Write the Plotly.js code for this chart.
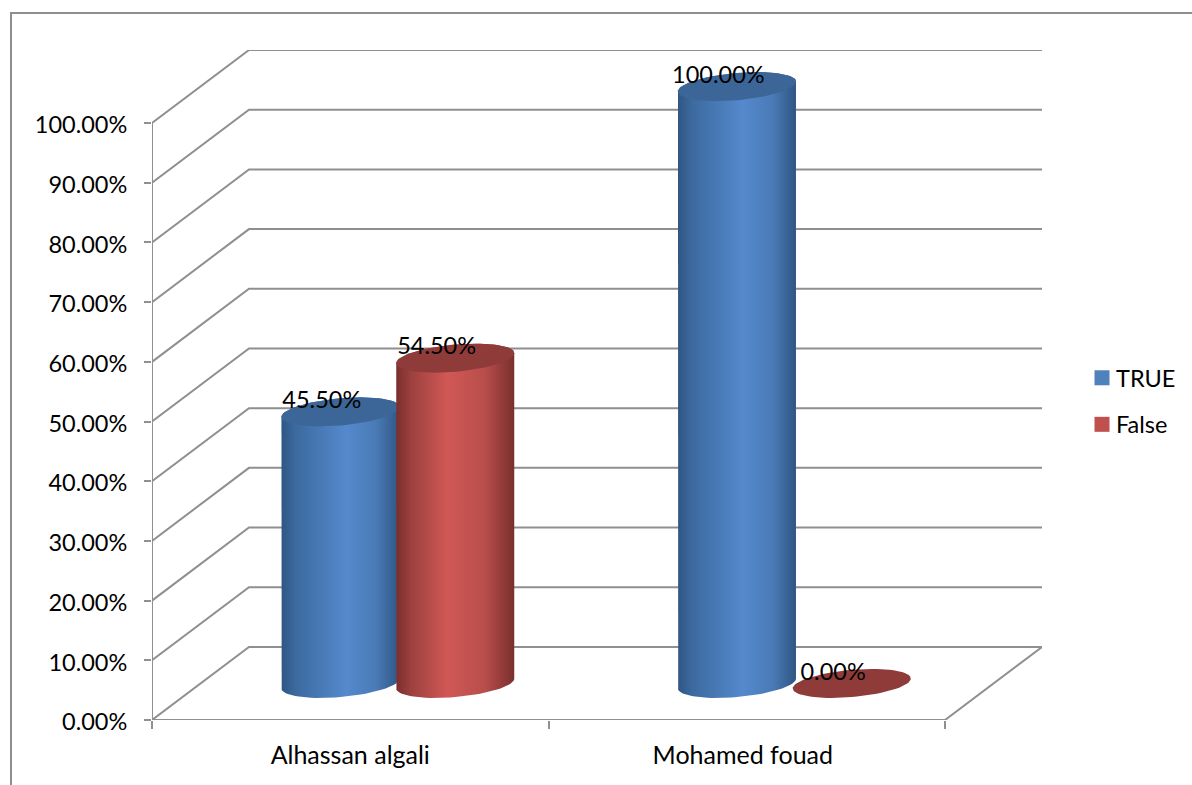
<!DOCTYPE html>
<html>
<head>
<meta charset="utf-8">
<script src="https://cdn.plot.ly/plotly-3.0.1.min.js"></script>
<style>html,body{margin:0;padding:0;background:#fff}</style>
</head>
<body>
<div id="chart" style="width:1192px;height:785px"></div>
<script>
// Survey results per person, in percent
const categories = ['Alhassan algali', 'Mohamed fouad'];
const trueValues = [45.5, 100];
const falseValues = [54.5, 0];
const yTicks = [0, 10, 20, 30, 40, 50, 60, 70, 80, 90, 100];

// Pixel frame of the drawing area
const W = 1192, H = 785;
const plotLeft = 152, plotRight = 1042, plotTop = 50, plotBottom = 720;

// 3D box depth, in axis units
const depthX = 0.2446, depthY = 12.24;
const xMax = 2 + depthX, yMax = 100 + depthY;
const pxX = (plotRight - plotLeft) / xMax, pxY = (plotBottom - plotTop) / yMax;

// Cylinder shape, in axis units
const halfW = 59 / pxX, tilt = 5 / pxY, radY = 13.6 / pxY;
const offsetTrue = -0.147, offsetFalse = 0.1425;

const GRAY = '#8f8f8f';
const family = 'Lato, Carlito, sans-serif';
const numFont = {family, size: 23.5, color: '#000'};
const catFont = {family, size: 25, color: '#000'};
const keyFont = {family, size: 23.5, color: '#000'};

const blueBody = [[0, '#2f5684'], [0.12, '#3c6a9f'], [0.55, '#5589cd'], [0.8, '#4a7bb6'], [1, '#2f5684']];
const redBody = [[0, '#7a2f2d'], [0.12, '#9b403e'], [0.43, '#d05855'], [0.75, '#b84e4b'], [1, '#7a2f2d']];

// Tilted ellipse point of a cylinder end
function rim(cx, cy, t) {
  return [cx + halfW * Math.cos(t), cy + tilt * Math.cos(t) + radY * Math.sin(t)];
}

function wall() {
  const out = [];
  yTicks.forEach(v => out.push({
    x: [0, depthX, 2 + depthX], y: [v, v + depthY, v + depthY],
    mode: 'lines', line: {color: GRAY, width: 2}, cliponaxis: false,
    showlegend: false, hoverinfo: 'skip'
  }));
  // Axis lines and the right edge of the floor
  out.push({
    x: [0, 0, null, 0, 2, depthX + 2], y: [100, 0, null, 0, 0, depthY],
    mode: 'lines', line: {color: GRAY, width: 2}, cliponaxis: false,
    showlegend: false, hoverinfo: 'skip'
  });
  return out;
}

function cylinder(catIndex, offset, value, bodyScale, capColor) {
  const cx = catIndex + 0.5 + offset + depthX / 2;
  const yBase = depthY / 2, yTop = value + depthY / 2;
  const bx = [], by = [], tx = [], ty = [];
  const N = 72;
  // Body outline: back half of the top rim, then front half of the base rim
  for (let i = 0; i <= N / 2; i++) {
    const p = rim(cx, yTop, Math.PI * i / (N / 2));
    bx.push(p[0]); by.push(p[1]);
  }
  for (let i = 0; i <= N / 2; i++) {
    const p = rim(cx, yBase, Math.PI + Math.PI * i / (N / 2));
    bx.push(p[0]); by.push(p[1]);
  }
  for (let i = 0; i <= N; i++) {
    const p = rim(cx, yTop, 2 * Math.PI * i / N);
    tx.push(p[0]); ty.push(p[1]);
  }
  const out = [];
  if (value > 0) {
    out.push({
      x: bx, y: by, mode: 'lines', fill: 'toself', line: {width: 0},
      fillgradient: {type: 'horizontal', colorscale: bodyScale, start: cx - halfW, stop: cx + halfW},
      showlegend: false, hoverinfo: 'skip'
    });
  }
  out.push({
    x: tx, y: ty, mode: 'lines', fill: 'toself', line: {width: 0},
    fillcolor: capColor, showlegend: false, hoverinfo: 'skip'
  });
  return out;
}

const traces = wall();
categories.forEach((c, i) => {
  traces.push(...cylinder(i, offsetTrue, trueValues[i], blueBody, '#3c6697'));
  traces.push(...cylinder(i, offsetFalse, falseValues[i], redBody, '#8e3b39'));
});

// Value labels sit just above each cylinder's top, shifted left
const labelX = [], labelY = [], labelText = [];
categories.forEach((c, i) => {
  [[offsetTrue, trueValues[i]], [offsetFalse, falseValues[i]]].forEach(([off, v]) => {
    labelX.push(i + 0.5 + off + depthX / 2 - 0.047);
    labelY.push(v + depthY / 2 + 1.6);
    labelText.push(v.toFixed(2) + '%');
  });
});
traces.push({
  x: labelX, y: labelY, text: labelText, mode: 'text', textposition: 'middle center',
  textfont: numFont, cliponaxis: false, showlegend: false, hoverinfo: 'skip'
});

// Legend swatches
traces.push({x: [null], y: [null], name: 'TRUE', mode: 'markers', legendgroup: 'a',
  marker: {symbol: 'square', size: 15, color: '#4f81bd'}});
traces.push({x: [null], y: [null], name: 'False', mode: 'markers', legendgroup: 'b',
  marker: {symbol: 'square', size: 15, color: '#c0504d'}});

const paperX = px => (px - plotLeft) / (plotRight - plotLeft);
const paperY = py => (plotBottom - py) / (plotBottom - plotTop);

const layout = {
  width: W, height: H,
  margin: {l: plotLeft, r: W - plotRight, t: plotTop, b: H - plotBottom, pad: 0, autoexpand: false},
  paper_bgcolor: '#fff', plot_bgcolor: 'rgba(0,0,0,0)',
  font: numFont,
  xaxis: {
    range: [0, xMax], showgrid: false, zeroline: false, showline: false,
    tickmode: 'array', tickvals: [0.5, 1.49], ticktext: categories, ticks: '', ticklen: 0,
    ticklabelstandoff: 18, tickfont: catFont,
    minor: {tickmode: 'array', tickvals: [0, 1, 2], ticks: 'outside', ticklen: 8, tickwidth: 2, tickcolor: GRAY, showgrid: false}
  },
  yaxis: {
    range: [0, yMax], showgrid: false, zeroline: false, showline: false,
    tickmode: 'array', tickvals: yTicks, ticktext: yTicks.map(v => v.toFixed(2) + '%'),
    ticks: 'outside', ticklen: 7, tickwidth: 2, tickcolor: GRAY,
    ticklabelstandoff: 12, ticklabelshift: 2, tickfont: numFont
  },
  legend: {
    x: paperX(1082), xanchor: 'left', y: paperY(356), yanchor: 'top',
    bgcolor: 'rgba(0,0,0,0)', font: keyFont, tracegroupgap: 13, itemwidth: 30
  },
  shapes: [{
    type: 'path', xref: 'paper', yref: 'paper',
    path: `M ${paperX(W + 5)} ${paperY(13)} L ${paperX(11)} ${paperY(13)} L ${paperX(11)} ${paperY(H + 5)}`,
    line: {color: GRAY, width: 2}
  }],
  showlegend: true
};

Plotly.newPlot('chart', traces, layout, {displayModeBar: false, staticPlot: true}).then(() => {
  // Tighten the gap between legend swatch and label
  document.querySelectorAll('#chart .legendtext').forEach(t => {
    t.setAttribute('x', parseFloat(t.getAttribute('x')) - 6);
  });
});
</script>
</body>
</html>
